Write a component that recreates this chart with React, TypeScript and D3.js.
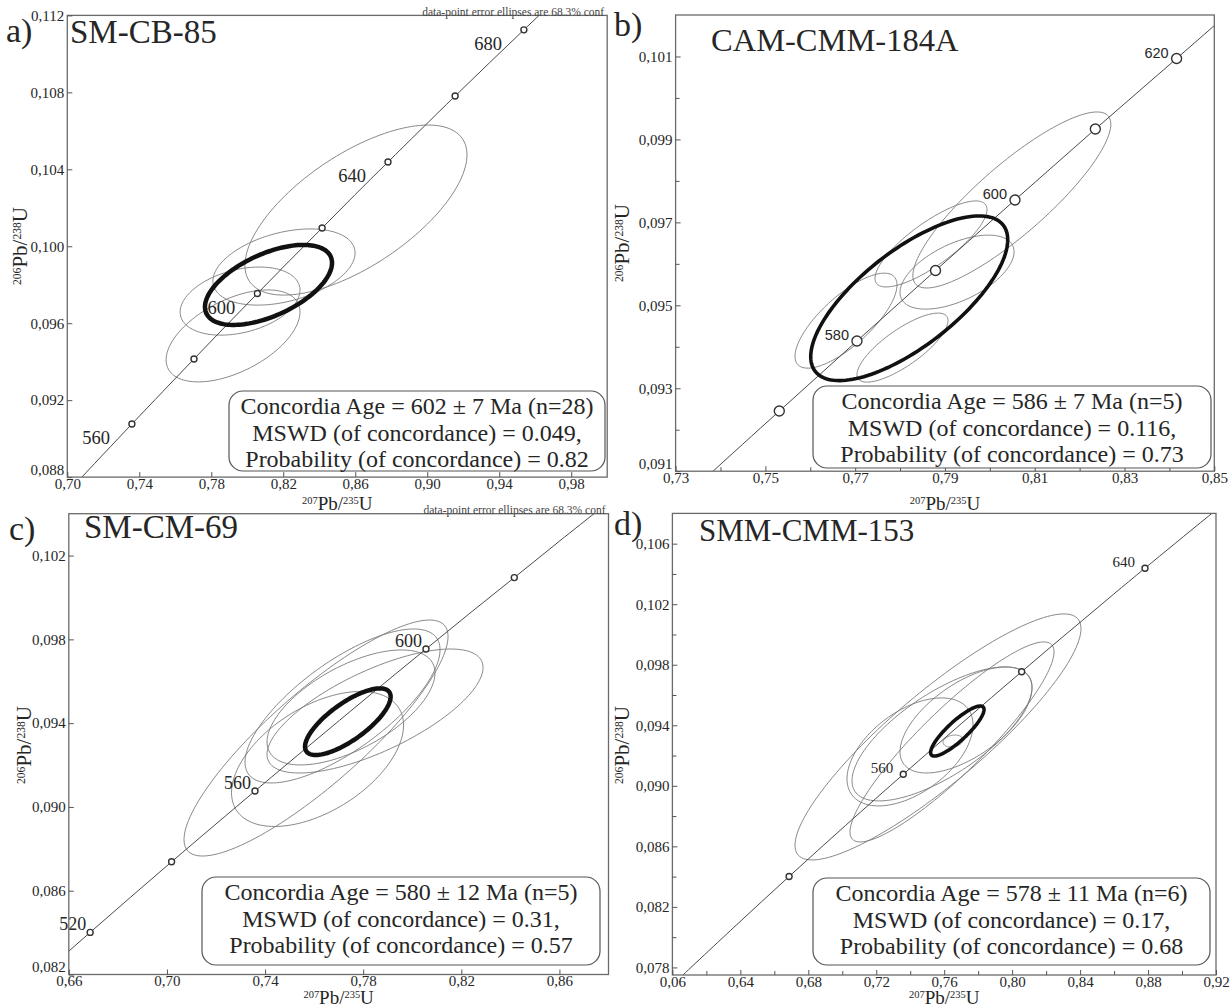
import { useEffect, useRef } from "react";
import * as d3 from "d3";

// concordia reference points: age (Ma), 207Pb/235U, 206Pb/238U
const concordiaAge = [480, 500, 520, 540, 560, 570, 580, 590, 600, 610, 620, 630, 640, 660, 680, 700, 720];
const concordiaX = [0.6043, 0.6362, 0.6687, 0.7019, 0.7359, 0.7531, 0.7704, 0.7879, 0.8056, 0.8235, 0.8416, 0.8598, 0.8782, 0.9155, 0.9537, 0.9925, 1.0321];
const concordiaY = [0.0773, 0.08065, 0.08401, 0.08738, 0.09076, 0.09245, 0.09414, 0.09584, 0.09754, 0.09925, 0.10095, 0.10267, 0.10438, 0.10781, 0.11125, 0.1147, 0.11817];

// a) SM-CB-85
const aXDomain = [0.7, 1.0];
const aYDomain = [0.088, 0.112];
const aXTicks = [0.7, 0.74, 0.78, 0.82, 0.86, 0.9, 0.94, 0.98];
const aXLabels = ["0,70", "0,74", "0,78", "0,82", "0,86", "0,90", "0,94", "0,98"];
const aYTicks = [0.088, 0.092, 0.096, 0.1, 0.104, 0.108, 0.112];
const aYLabels = ["0,088", "0,092", "0,096", "0,100", "0,104", "0,108", "0,112"];
const aMarkAges = [560, 580, 600, 620, 640, 660, 680];
const aLabelAges = [560, 600, 640, 680];
const aEllX = [0.8604, 0.8204, 0.796, 0.7921];
const aEllY = [0.10188, 0.09892, 0.09715, 0.09534];
const aEllSX = [0.0617, 0.0395, 0.0333, 0.0372];
const aEllSY = [0.00442, 0.00198, 0.00177, 0.00239];
const aEllRho = [0.65, 0.37, 0.32, 0.52];
const aMean = [0.8118, 0.09799, 0.0353, 0.00208, 0.55];
const aStats = ["Concordia Age = 602 ± 7 Ma (n=28)", "MSWD (of concordance) = 0.049,", "Probability (of concordance) = 0.82"];

// b) CAM-CMM-184A
const bXDomain = [0.73, 0.85];
const bYDomain = [0.091, 0.102];
const bXTicks = [0.73, 0.75, 0.77, 0.79, 0.81, 0.83, 0.85];
const bXLabels = ["0,73", "0,75", "0,77", "0,79", "0,81", "0,83", "0,85"];
const bXMinor = [0.74, 0.76, 0.78, 0.8, 0.82, 0.84];
const bYTicks = [0.091, 0.093, 0.095, 0.097, 0.099, 0.101];
const bYLabels = ["0,091", "0,093", "0,095", "0,097", "0,099", "0,101"];
const bYMinor = [0.092, 0.094, 0.096, 0.098, 0.1];
const bMarkAges = [570, 580, 590, 600, 610, 620];
const bLabelAges = [580, 600, 620];
const bEllX = [0.8049, 0.78689, 0.79269, 0.76796, 0.78055];
const bEllY = [0.09754, 0.09648, 0.0958, 0.09463, 0.09398];
const bEllSX = [0.02205, 0.01247, 0.0127, 0.01136, 0.01014];
const bEllSY = [0.002122, 0.001037, 0.000892, 0.001145, 0.000832];
const bEllRho = [0.86, 0.8, 0.55, 0.75, 0.78];
const bMean = [0.78204, 0.09517, 0.02194, 0.001985, 0.71];
const bStats = ["Concordia Age = 586 ± 7 Ma (n=5)", "MSWD (of concordance) = 0.116,", "Probability (of concordance) = 0.73"];

// c) SM-CM-69
const cXDomain = [0.66, 0.88];
const cYDomain = [0.082, 0.104];
const cXTicks = [0.66, 0.7, 0.74, 0.78, 0.82, 0.86];
const cXLabels = ["0,66", "0,70", "0,74", "0,78", "0,82", "0,86"];
const cYTicks = [0.082, 0.086, 0.09, 0.094, 0.098, 0.102];
const cYLabels = ["0,082", "0,086", "0,090", "0,094", "0,098", "0,102"];
const cMarkAges = [520, 540, 560, 600, 620];
const cLabelAges = [520, 560, 600];
const cEllX = [0.76078, 0.77158, 0.78483, 0.76139, 0.77504];
const cEllY = [0.09329, 0.09482, 0.09458, 0.09229, 0.09475];
const cEllSX = [0.05381, 0.03975, 0.04403, 0.03506, 0.03424];
const cEllSY = [0.005634, 0.003676, 0.00296, 0.003223, 0.002745];
const cEllRho = [0.86, 0.73, 0.7, 0.5, 0.6];
const cMean = [0.77374, 0.09407, 0.01745, 0.00159, 0.75];
const cStats = ["Concordia Age = 580 ± 12 Ma (n=5)", "MSWD (of concordance) = 0.31,", "Probability (of concordance) = 0.57"];

// d) SMM-CMM-153
const dXDomain = [0.6, 0.92];
const dYDomain = [0.0775, 0.108];
const dXTicks = [0.6, 0.64, 0.68, 0.72, 0.76, 0.8, 0.84, 0.88, 0.92];
const dXLabels = ["0,06", "0,64", "0,68", "0,72", "0,76", "0,80", "0,84", "0,88", "0,92"];
const dXMinor = [0.62, 0.66, 0.7, 0.74, 0.78, 0.82, 0.86, 0.9];
const dYTicks = [0.078, 0.082, 0.086, 0.09, 0.094, 0.098, 0.102, 0.106];
const dYLabels = ["0,078", "0,082", "0,086", "0,090", "0,094", "0,098", "0,102", "0,106"];
const dYMinor = [0.08, 0.084, 0.088, 0.092, 0.096, 0.1, 0.104];
const dMarkAges = [520, 560, 600, 640];
const dLabelAges = [560, 640];
const dEllX = [0.75635, 0.7646, 0.75871, 0.73987, 0.77284, 0.76519];
const dEllY = [0.09323, 0.0929, 0.09343, 0.09224, 0.09435, 0.09296];
const dEllSX = [0.08418, 0.06005, 0.05298, 0.03709, 0.03885, 0.00589];
const dEllSY = [0.008128, 0.006608, 0.004427, 0.003568, 0.003502, 0.000396];
const dEllRho = [0.88, 0.9, 0.7, 0.5, 0.6, 0.2];
const dMean = [0.76772, 0.09362, 0.01572, 0.001652, 0.86];
const dStats = ["Concordia Age = 578 ± 11 Ma (n=6)", "MSWD (of concordance) = 0.17,", "Probability (of concordance) = 0.68"];

const serif = "'Liberation Serif', 'Times New Roman', serif";
const sans = "'Liberation Sans', Arial, sans-serif";
const ink = "#262626";

const panels = [
  {
    id: "a", letter: "a)", name: "SM-CB-85", conf: true,
    xDomain: aXDomain, yDomain: aYDomain, xTicks: aXTicks, xLabels: aXLabels, yTicks: aYTicks, yLabels: aYLabels,
    xMinor: [], yMinor: [], markAges: aMarkAges, labelAges: aLabelAges,
    ell: { x: aEllX, y: aEllY, sx: aEllSX, sy: aEllSY, rho: aEllRho }, mean: aMean, stats: aStats,
    rect: [67.3, 15.4, 607.2, 477.1], letterPos: [6, 42], namePos: [70, 43, 33],
    markR: 3, ageFont: serif, ageSize: 18.5, ageOff: [-22, 20], meanW: 4.5,
    box: [229, 391, 605, 471], yTitle: [27, 246], xTitle: 510,
  },
  {
    id: "b", letter: "b)", name: "CAM-CMM-184A", conf: false,
    xDomain: bXDomain, yDomain: bYDomain, xTicks: bXTicks, xLabels: bXLabels, yTicks: bYTicks, yLabels: bYLabels,
    xMinor: bXMinor, yMinor: bYMinor, markAges: bMarkAges, labelAges: bLabelAges,
    ell: { x: bEllX, y: bEllY, sx: bEllSX, sy: bEllSY, rho: bEllRho }, mean: bMean, stats: bStats,
    rect: [675.6, 15, 1214.3, 471.2], letterPos: [614, 36], namePos: [711, 50.5, 32.5],
    markR: 5, ageFont: sans, ageSize: 14.5, ageOff: [-8, -1], meanW: 3.6,
    box: [813, 386, 1211, 468], yTitle: [629, 243], xTitle: 510,
  },
  {
    id: "c", letter: "c)", name: "SM-CM-69", conf: true,
    xDomain: cXDomain, yDomain: cYDomain, xTicks: cXTicks, xLabels: cXLabels, yTicks: cYTicks, yLabels: cYLabels,
    xMinor: [], yMinor: [], markAges: cMarkAges, labelAges: cLabelAges,
    ell: { x: cEllX, y: cEllY, sx: cEllSX, sy: cEllSY, rho: cEllRho }, mean: cMean, stats: cStats,
    rect: [68.8, 513.7, 608.5, 974.5], letterPos: [9, 540], namePos: [84, 538, 33],
    markR: 3, ageFont: serif, ageSize: 18, ageOff: [-4, -2], meanW: 4.5,
    box: [202, 877, 600, 965], yTitle: [31, 745], xTitle: 1004,
  },
  {
    id: "d", letter: "d)", name: "SMM-CMM-153", conf: false,
    xDomain: dXDomain, yDomain: dYDomain, xTicks: dXTicks, xLabels: dXLabels, yTicks: dYTicks, yLabels: dYLabels,
    xMinor: dXMinor, yMinor: dYMinor, markAges: dMarkAges, labelAges: dLabelAges,
    ell: { x: dEllX, y: dEllY, sx: dEllSX, sy: dEllSY, rho: dEllRho }, mean: dMean, stats: dStats,
    rect: [672.4, 513.4, 1216, 975], letterPos: [614, 535], namePos: [699, 541, 31],
    markR: 3, ageFont: serif, ageSize: 15, ageOff: [-10, -1], meanW: 3.6,
    box: [813, 878, 1210, 965], yTitle: [629, 745], xTitle: 1004,
  },
];

// points round an error ellipse given half extents and correlation
function ellipsePoints(cx, cy, sx, sy, rho) {
  const k = Math.sqrt(1 - rho * rho);
  return d3.range(0, 144).map((i) => {
    const t = (i / 144) * 2 * Math.PI;
    return [cx + sx * Math.cos(t), cy + sy * (rho * Math.cos(t) + k * Math.sin(t))];
  });
}

function ratioTitle(sel, a, b, big) {
  const small = big * 0.55;
  sel.append("tspan").attr("font-size", small).attr("dy", -big * 0.3).text(a);
  sel.append("tspan").attr("font-size", big).attr("dy", big * 0.3).text("Pb/");
  sel.append("tspan").attr("font-size", small).attr("dy", -big * 0.3).text(b);
  sel.append("tspan").attr("font-size", big).attr("dy", big * 0.3).text("U");
}

function drawPanel(svg, p) {
  const [left, top, right, bottom] = p.rect;
  const x = d3.scaleLinear().domain(p.xDomain).range([left, right]);
  const y = d3.scaleLinear().domain(p.yDomain).range([bottom, top]);
  const g = svg.append("g");

  const clipId = "clip-" + p.id;
  g.append("clipPath").attr("id", clipId).append("rect")
    .attr("x", left).attr("y", top).attr("width", right - left).attr("height", bottom - top);

  const plot = g.append("g").attr("clip-path", `url(#${clipId})`);
  const closed = d3.line().x((d) => x(d[0])).y((d) => y(d[1])).curve(d3.curveLinearClosed);

  // data-point error ellipses
  p.ell.x.forEach((cx, i) => {
    plot.append("path")
      .attr("d", closed(ellipsePoints(cx, p.ell.y[i], p.ell.sx[i], p.ell.sy[i], p.ell.rho[i])))
      .attr("fill", "none").attr("stroke", "#7a7a7a").attr("stroke-width", 0.9);
  });

  // concordia curve
  const conc = concordiaAge.map((a, i) => [concordiaX[i], concordiaY[i]]);
  plot.append("path")
    .attr("d", d3.line().x((d) => x(d[0])).y((d) => y(d[1])).curve(d3.curveCatmullRom)(conc))
    .attr("fill", "none").attr("stroke", "#4a4a4a").attr("stroke-width", 1);

  const marks = p.markAges.map((a) => concordiaAge.indexOf(a));
  plot.selectAll(".mark").data(marks).join("circle")
    .attr("cx", (i) => x(concordiaX[i])).attr("cy", (i) => y(concordiaY[i])).attr("r", p.markR)
    .attr("fill", "white").attr("stroke", "#333").attr("stroke-width", 1.4);

  g.append("g").selectAll("text").data(p.labelAges).join("text")
    .attr("x", (a) => x(concordiaX[concordiaAge.indexOf(a)]) + p.ageOff[0])
    .attr("y", (a) => y(concordiaY[concordiaAge.indexOf(a)]) + p.ageOff[1])
    .attr("text-anchor", "end").attr("font-family", p.ageFont).attr("font-size", p.ageSize)
    .attr("fill", ink).text((a) => a);

  // concordia age ellipse, drawn over the age labels
  const [mx, my, msx, msy, mr] = p.mean;
  g.append("g").attr("clip-path", `url(#${clipId})`).append("path")
    .attr("d", closed(ellipsePoints(mx, my, msx, msy, mr)))
    .attr("fill", "none").attr("stroke", "#111").attr("stroke-width", p.meanW);

  // frame and axes
  g.append("rect").attr("x", left).attr("y", top).attr("width", right - left).attr("height", bottom - top)
    .attr("fill", "none").attr("stroke", "#6a6a6a").attr("stroke-width", 1.3);

  const styleAxis = (s) => {
    s.select(".domain").remove();
    s.attr("color", "#555");
    s.selectAll("text").attr("font-family", serif).attr("font-size", 15).attr("fill", ink);
  };
  g.append("g").attr("transform", `translate(0,${bottom})`)
    .call(d3.axisBottom(x).tickValues(p.xTicks).tickFormat((_, i) => p.xLabels[i]).tickSizeInner(-5).tickSizeOuter(0).tickPadding(1))
    .call(styleAxis);
  g.append("g").attr("transform", `translate(${left},0)`)
    .call(d3.axisLeft(y).tickValues(p.yTicks).tickFormat((_, i) => p.yLabels[i]).tickSizeInner(-5).tickSizeOuter(0).tickPadding(3))
    .call(styleAxis)
    // the corner label sits a little higher, clear of the first x label
    .call((s) => s.selectAll("text").filter((d) => y(d) > bottom - 2).attr("dy", "-0.2em"));
  if (p.xMinor.length) {
    g.append("g").attr("transform", `translate(0,${bottom})`)
      .call(d3.axisBottom(x).tickValues(p.xMinor).tickFormat(() => "").tickSizeInner(-4).tickSizeOuter(0))
      .call(styleAxis);
  }
  if (p.yMinor.length) {
    g.append("g").attr("transform", `translate(${left},0)`)
      .call(d3.axisLeft(y).tickValues(p.yMinor).tickFormat(() => "").tickSizeInner(-4).tickSizeOuter(0))
      .call(styleAxis);
  }

  // axis titles
  ratioTitle(g.append("text").attr("x", (left + right) / 2).attr("y", p.xTitle).attr("text-anchor", "middle")
    .attr("font-family", serif).attr("fill", ink), "207", "235", 19);
  ratioTitle(g.append("text").attr("transform", `translate(${p.yTitle[0]},${p.yTitle[1]}) rotate(-90)`)
    .attr("text-anchor", "middle").attr("font-family", serif).attr("fill", ink), "206", "238", 21);

  // panel letter and sample name
  g.append("text").attr("x", p.letterPos[0]).attr("y", p.letterPos[1]).attr("font-family", serif)
    .attr("font-size", 34).attr("fill", ink).text(p.letter);
  g.append("text").attr("x", p.namePos[0]).attr("y", p.namePos[1]).attr("font-family", serif)
    .attr("font-size", p.namePos[2]).attr("fill", ink).text(p.name);
  if (p.conf) {
    g.append("text").attr("x", right - 3).attr("y", top + 0.5).attr("text-anchor", "end")
      .attr("font-family", serif).attr("font-size", 11.5).attr("fill", "#444")
      .text("data-point error ellipses are 68.3% conf");
  }

  // statistics box
  const [bx0, by0, bx1, by1] = p.box;
  g.append("rect").attr("x", bx0).attr("y", by0).attr("width", bx1 - bx0).attr("height", by1 - by0)
    .attr("rx", 14).attr("fill", "white").attr("stroke", "#555").attr("stroke-width", 1.2);
  g.selectAll(".stat").data(p.stats).join("text")
    .attr("x", (bx0 + bx1) / 2).attr("y", (_, i) => by0 + 23 + i * 26.5).attr("text-anchor", "middle")
    .attr("font-family", serif).attr("font-size", 24).attr("fill", ink).text((d) => d);
}

export default function App() {
  const svgRef = useRef(null);
  useEffect(() => {
    const svg = d3.select(svgRef.current);
    svg.selectAll("*").remove();
    panels.forEach((p) => drawPanel(svg, p));
  }, []);
  return (
    <svg
      ref={svgRef}
      width={1230}
      height={1008}
      style={{ position: "absolute", left: 0, top: 0, background: "white" }}
    />
  );
}
